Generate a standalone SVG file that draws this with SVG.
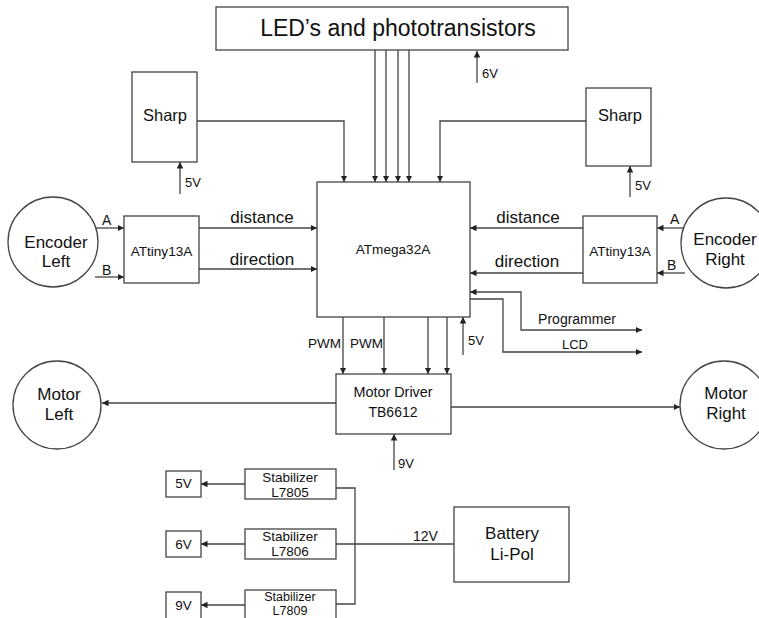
<svg xmlns="http://www.w3.org/2000/svg" width="759" height="618" viewBox="0 0 759 618">
<defs>
<marker id="arr" viewBox="0 0 8 8" refX="8" refY="4" markerWidth="6.5" markerHeight="6.5" markerUnits="userSpaceOnUse" orient="auto-start-reverse">
<path d="M0,0 L8,4 L0,8 z" fill="#222"/>
</marker>
<style>
.box{fill:#fff;stroke:#444;stroke-width:1.3}
.ln{fill:none;stroke:#444;stroke-width:1.3}
.a{marker-end:url(#arr)}
.t{font-family:"Liberation Sans",Arial,sans-serif;fill:#111}
.c{text-anchor:middle}
</style>
</defs>
<rect width="759" height="618" fill="#fff"/>
<g id="connectors">
<path class="ln a" d="M375,50 V182"/>
<path class="ln a" d="M386,50 V182"/>
<path class="ln a" d="M398,50 V182"/>
<path class="ln a" d="M409,50 V182"/>
<path class="ln a" d="M197,121 H344 V182"/>
<path class="ln a" d="M586,121 H440 V182"/>
<path class="ln a" d="M477,83 V51"/>
<path class="ln a" d="M180,194 V162"/>
<path class="ln a" d="M630,197 V166"/>
<path class="ln a" d="M95,228 H124"/>
<path class="ln a" d="M95,277 H124"/>
<path class="ln a" d="M199,228 H317"/>
<path class="ln a" d="M199,269 H317"/>
<path class="ln a" d="M583,228 H470"/>
<path class="ln a" d="M583,273 H470"/>
<path class="ln a" d="M685,228 H657"/>
<path class="ln a" d="M685,273 H657"/>
<path class="ln a" d="M470,292 H521 V330 H642" style="marker-start:url(#arr)"/>
<path class="ln a" d="M470,299 H503 V352 H642"/>
<path class="ln a" d="M463,355 V317"/>
<path class="ln a" d="M343,317 V374"/>
<path class="ln a" d="M384,317 V374"/>
<path class="ln a" d="M428,317 V374"/>
<path class="ln a" d="M447,317 V374"/>
<path class="ln a" d="M336,403 H102"/>
<path class="ln a" d="M451,407 H680"/>
<path class="ln a" d="M394,470 V434"/>
<path class="ln a" d="M245,484 H201"/>
<path class="ln a" d="M245,544 H201"/>
<path class="ln a" d="M245,605 H201"/>
<path class="ln" d="M336,488 H355 V604 H336"/>
<path class="ln" d="M336,544 H454"/>
</g>
<g id="labels" class="t" font-size="13">
<text x="482" y="78">6V</text>
<text x="185" y="187">5V</text>
<text x="635" y="190">5V</text>
<text x="468" y="345">5V</text>
<text x="398" y="468">9V</text>
<text x="308" y="348" font-size="13.5">PWM</text>
<text x="350" y="348" font-size="13.5">PWM</text>
<text x="577" y="324" class="c" font-size="14">Programmer</text>
<text x="575" y="349" class="c" font-size="13">LCD</text>
<text x="102" y="225" font-size="14">A</text>
<text x="102" y="275" font-size="14">B</text>
<text x="670" y="224" font-size="14">A</text>
<text x="667" y="270" font-size="14">B</text>
<text x="262" y="223" class="c" font-size="17">distance</text>
<text x="262" y="265" class="c" font-size="17">direction</text>
<text x="528" y="223" class="c" font-size="17">distance</text>
<text x="527" y="267" class="c" font-size="17">direction</text>
<text x="413" y="541" font-size="14">12V</text>
</g>
<g id="leds">
<rect class="box" x="216" y="7" width="352" height="43"/>
<text class="t c" x="398" y="36" font-size="23">LED’s and phototransistors</text>
</g>
<g id="sharp-left">
<rect class="box" x="132" y="72" width="65" height="90"/>
<text class="t c" x="165" y="121" font-size="16.5">Sharp</text>
</g>
<g id="sharp-right">
<rect class="box" x="586" y="88" width="65" height="78"/>
<text class="t c" x="620" y="121" font-size="16.5">Sharp</text>
</g>
<g id="atmega">
<rect class="box" x="317" y="182" width="153" height="135"/>
<text class="t c" x="393" y="254" font-size="13.6">ATmega32A</text>
</g>
<g id="attiny-left">
<rect class="box" x="124" y="216" width="75" height="67"/>
<text class="t c" x="161.5" y="256" font-size="13.6">ATtiny13A</text>
</g>
<g id="attiny-right">
<rect class="box" x="583" y="216" width="74" height="67"/>
<text class="t c" x="620" y="256" font-size="13.6">ATtiny13A</text>
</g>
<g id="encoder-left">
<circle class="box" cx="53" cy="242" r="45"/>
<text class="t c" x="56" y="248" font-size="17">Encoder</text>
<text class="t c" x="56" y="267" font-size="17">Left</text>
</g>
<g id="encoder-right">
<circle class="box" cx="726" cy="243" r="45"/>
<text class="t c" x="725" y="245" font-size="17">Encoder</text>
<text class="t c" x="725" y="265" font-size="17">Right</text>
</g>
<g id="motor-driver">
<rect class="box" x="336" y="374" width="115" height="60"/>
<text class="t c" x="393" y="397" font-size="14.4">Motor Driver</text>
<text class="t c" x="393" y="417" font-size="14">TB6612</text>
</g>
<g id="motor-left">
<circle class="box" cx="57" cy="405" r="44"/>
<text class="t c" x="59" y="400" font-size="17">Motor</text>
<text class="t c" x="59" y="420" font-size="17">Left</text>
</g>
<g id="motor-right">
<circle class="box" cx="724" cy="405" r="44"/>
<text class="t c" x="726" y="399" font-size="17">Motor</text>
<text class="t c" x="726" y="419" font-size="17">Right</text>
</g>
<g id="stab-7805">
<rect class="box" x="245" y="469" width="91" height="30"/>
<text class="t c" x="290" y="482" font-size="13.5">Stabilizer</text>
<text class="t c" x="290" y="497" font-size="13.5">L7805</text>
</g>
<g id="stab-7806">
<rect class="box" x="245" y="529" width="91" height="30"/>
<text class="t c" x="290" y="541" font-size="13.5">Stabilizer</text>
<text class="t c" x="290" y="556" font-size="13.5">L7806</text>
</g>
<g id="stab-7809">
<rect class="box" x="245" y="590" width="91" height="32"/>
<text class="t c" x="290" y="600.5" font-size="12.5">Stabilizer</text>
<text class="t c" x="290" y="615" font-size="12.5">L7809</text>
</g>
<g id="out-5v">
<rect class="box" x="166" y="471" width="35" height="26"/>
<text class="t c" x="183.5" y="488" font-size="13.5">5V</text>
</g>
<g id="out-6v">
<rect class="box" x="166" y="531" width="35" height="26"/>
<text class="t c" x="183.5" y="549" font-size="13.5">6V</text>
</g>
<g id="out-9v">
<rect class="box" x="166" y="592" width="35" height="30"/>
<text class="t c" x="183.5" y="610" font-size="13.5">9V</text>
</g>
<g id="battery">
<rect class="box" x="454" y="507" width="115" height="75"/>
<text class="t c" x="512" y="539" font-size="17">Battery</text>
<text class="t c" x="512" y="560" font-size="17">Li-Pol</text>
</g>
</svg>
